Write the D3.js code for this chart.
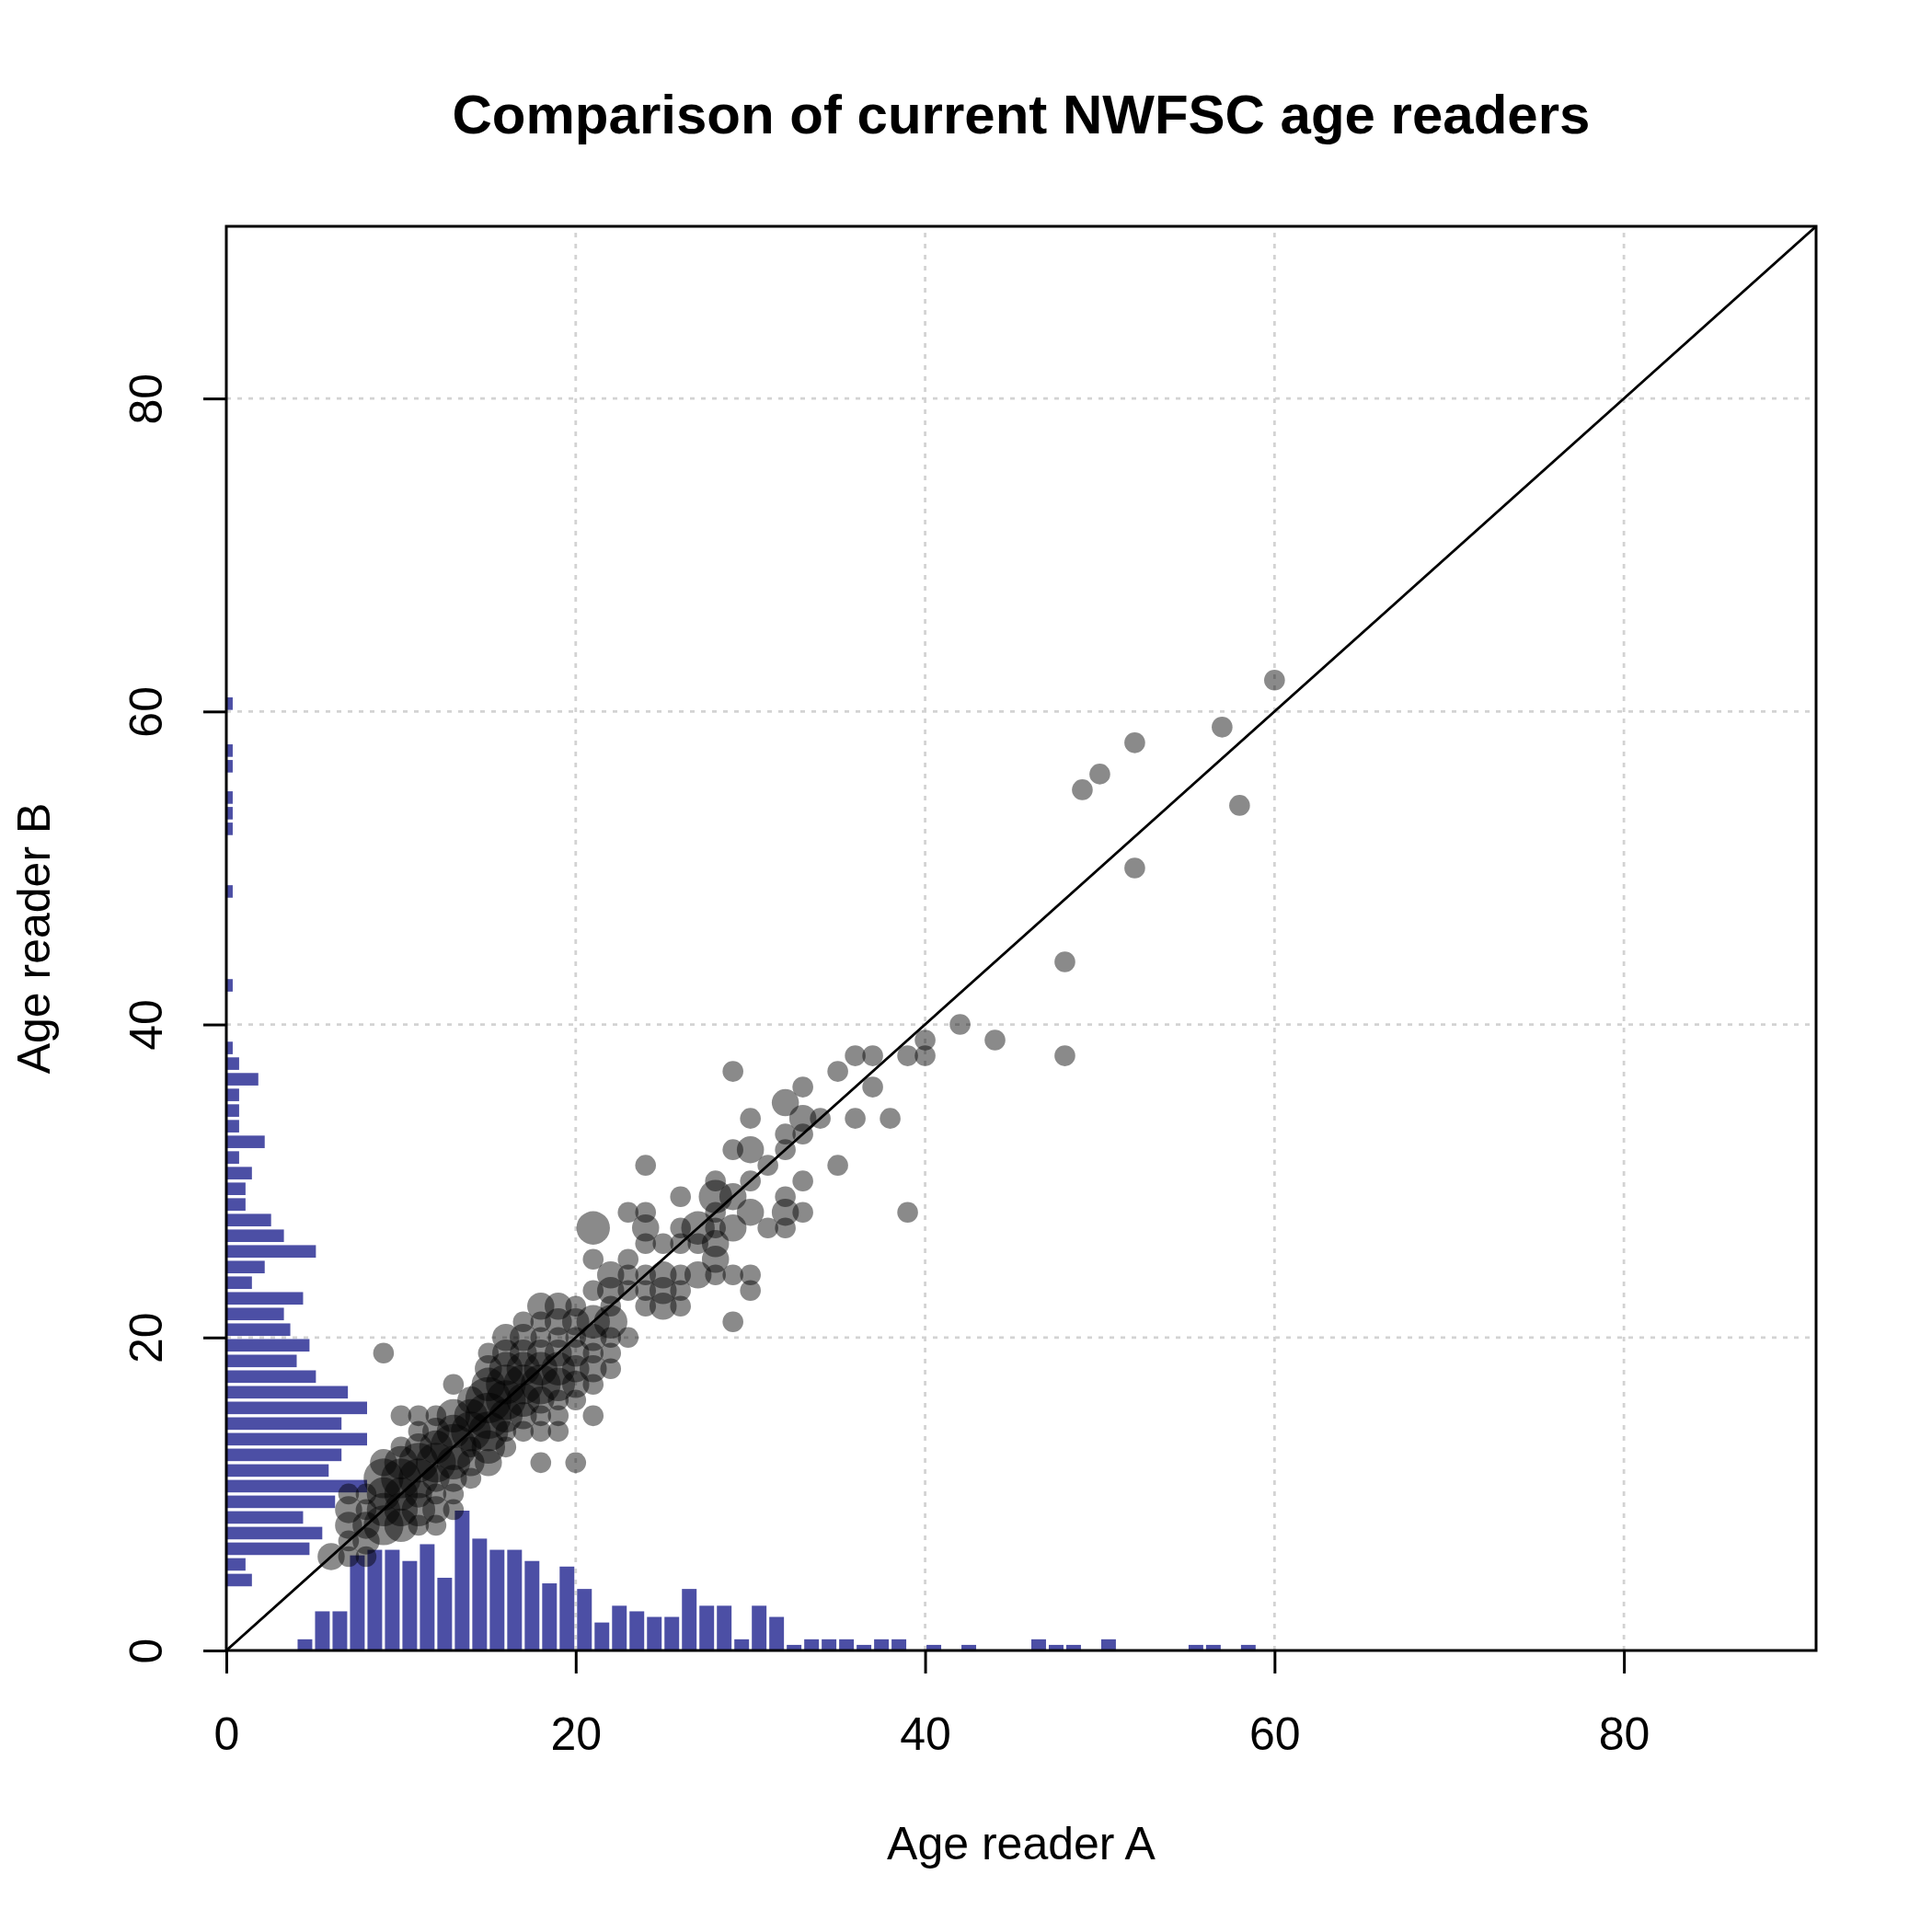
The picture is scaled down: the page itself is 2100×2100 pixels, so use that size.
<!DOCTYPE html>
<html><head><meta charset="utf-8">
<script src="https://cdn.jsdelivr.net/npm/d3@7"></script>
<style>html,body{margin:0;padding:0;background:#fff}svg{display:block}</style>
</head><body>
<script>
// ---------- data ----------
const chartTitle = "Comparison of current NWFSC age readers";
const xLabel = "Age reader A";
const yLabel = "Age reader B";
const axisMax = 91;
const tickValues = [0, 20, 40, 60, 80];
const gridValues = [20, 40, 60, 80];

// bubbles: age by reader A, age by reader B, number of fish
const ageA = [6,
  7,7,7,7,7,
  8,8,8,8,8,
  9,9,9,9,9,9,
  10,10,10,10,10,10,10,
  11,11,11,11,11,11,11,11,
  12,12,12,12,12,12,12,12,
  13,13,13,13,13,13,13,13,
  14,14,14,14,14,14,
  15,15,15,15,15,15,15,15,
  16,16,16,16,16,16,16,16,
  17,17,17,17,17,17,17,17,
  18,18,18,18,18,18,18,18,18,18,
  19,19,19,19,19,19,19,19,19,
  20,20,20,20,20,20,20,20,
  21,21,21,21,21,21,21,21,21,
  22,22,22,22,22,22,22,
  23,23,23,23,23,
  24,24,24,24,24,24,24,
  25,25,25,25,
  26,26,26,26,26,26,
  27,27,27,
  28,28,28,28,28,28,28,
  29,29,29,29,29,29,
  30,30,30,30,30,30,
  31,31,
  32,32,32,32,32,32,
  33,33,33,33,33,
  34,35,35,36,36,37,37,38,39,39,40,40,
  42,44,48,48,49,50,52,52,57,58,60];
const ageB = [6,
  6,7,8,9,10,
  6,7,8,9,10,
  8,9,10,11,12,19,
  8,9,10,11,12,13,15,
  8,9,10,11,12,13,14,15,
  8,9,10,11,12,13,14,15,
  9,10,11,12,13,14,15,17,
  11,12,13,14,15,16,
  12,13,14,15,16,17,18,19,
  13,14,15,16,17,18,19,20,
  14,15,16,17,18,19,20,21,
  12,14,15,16,17,18,19,20,21,22,
  14,15,16,17,18,19,20,21,22,
  12,16,17,18,19,20,21,22,
  15,17,18,19,20,21,23,25,27,
  18,19,20,21,22,23,24,
  20,23,24,25,28,
  22,23,24,26,27,28,31,
  22,23,24,26,
  22,23,24,26,27,29,
  24,26,27,
  24,25,26,27,28,29,30,
  21,24,27,29,32,37,
  23,24,28,30,32,34,
  27,31,
  27,28,29,32,33,35,
  28,30,33,34,36,
  34,31,37,34,38,36,38,34,28,38,38,39,
  40,39,38,44,55,56,50,58,59,54,62];
const nFish = [2,
  1,1,2,2,1,
  1,2,2,1,1,
  4,3,3,4,2,1,
  3,3,3,4,3,1,1,
  1,3,2,4,4,2,1,1,
  1,2,1,2,4,3,2,1,
  1,1,2,3,5,3,3,1,
  1,2,1,4,3,2,
  2,3,4,5,5,3,2,1,
  1,1,3,4,4,3,2,2,
  1,2,3,4,3,2,2,1,
  1,1,1,2,4,3,2,1,1,2,
  1,1,1,3,3,2,1,2,2,
  1,1,2,2,2,1,2,1,
  1,1,2,1,2,3,1,1,3,
  1,1,1,3,1,2,2,
  1,1,1,1,1,
  1,1,1,1,2,1,1,
  2,2,2,1,
  1,1,1,1,1,1,
  2,1,3,
  1,2,2,1,1,3,1,
  1,1,2,2,1,1,
  1,1,2,1,2,1,
  1,1,
  1,2,1,1,1,2,
  1,1,1,2,1,
  1,1,1,1,1,1,1,1,1,1,1,1,
  1,1,1,1,1,1,1,1,1,1,1];

// marginal histogram along the x axis (reader A): bin start, count
const histABins = [4,5,6,7,8,9,10,11,12,13,14,15,16,17,18,19,20,21,22,23,24,25,26,27,28,29,30,31,
  32,33,34,35,36,37,38,40,42,46,47,48,50,55,56,58];
const histACounts = [2,7,7,17,18,18,16,19,13,25,20,18,18,16,12,15,11,5,8,7,6,6,11,8,8,2,8,6,
  1,2,2,2,1,2,2,1,1,2,1,1,2,1,1,1];

// marginal histogram along the y axis (reader B): bin start, count
const histBBins = [4,5,6,7,8,9,10,11,12,13,14,15,16,17,18,19,20,21,22,23,24,25,26,27,28,29,30,31,
  32,33,34,35,36,37,38,42,48,52,53,54,56,57,60];
const histBCounts = [4,3,13,15,12,17,22,16,18,22,18,22,19,14,11,13,10,9,12,4,6,14,9,7,3,3,4,2,
  6,2,2,2,5,2,1,1,1,1,1,1,1,1,1];

// ---------- layout ----------
const W = 2100, H = 2100;
const m = {l: 246, r: 126, t: 246, b: 306};
const font = "'Liberation Sans', Arial, Helvetica, sans-serif";
const barColor = "#4c4fa5";

const x = d3.scaleLinear().domain([0, axisMax]).range([m.l, W - m.r]);
const y = d3.scaleLinear().domain([0, axisMax]).range([H - m.b, m.t]);
const r = d3.scaleLinear().domain([1, 3]).range([11.3, 18.2]);
const lenA = d3.scaleLinear().domain([0, d3.max(histACounts)]).range([0, 152]);
const lenB = d3.scaleLinear().domain([0, d3.max(histBCounts)]).range([0, 153]);

const svg = d3.select("body").append("svg")
  .attr("width", W).attr("height", H)
  .style("font-family", font);
svg.append("rect").attr("width", W).attr("height", H).attr("fill", "#fff");

svg.append("clipPath").attr("id", "plotclip").append("rect")
  .attr("x", m.l).attr("y", m.t).attr("width", W - m.l - m.r).attr("height", H - m.t - m.b);
const plot = svg.append("g").attr("clip-path", "url(#plotclip)");

// grid
const grid = plot.append("g").attr("stroke", "#d3d3d3").attr("stroke-width", 2.8)
  .attr("stroke-dasharray", "5,7");
grid.selectAll("line.v").data(gridValues).join("line").attr("class", "v")
  .attr("x1", d => x(d)).attr("x2", d => x(d)).attr("y1", y(0)).attr("y2", y(axisMax));
grid.selectAll("line.h").data(gridValues).join("line").attr("class", "h")
  .attr("y1", d => y(d)).attr("y2", d => y(d)).attr("x1", x(0)).attr("x2", x(axisMax));

// histograms
plot.append("g").selectAll("rect")
  .data(histABins.map((b, i) => ({b, n: histACounts[i]})))
  .join("rect")
  .attr("x", d => x(d.b + 0.08))
  .attr("width", d => x(d.b + 0.92) - x(d.b + 0.08))
  .attr("y", d => y(0) - lenA(d.n))
  .attr("height", d => lenA(d.n))
  .attr("fill", barColor);

plot.append("g").selectAll("rect")
  .data(histBBins.map((b, i) => ({b, n: histBCounts[i]})))
  .join("rect")
  .attr("x", x(0))
  .attr("width", d => lenB(d.n))
  .attr("y", d => y(d.b + 0.9))
  .attr("height", d => y(d.b + 0.1) - y(d.b + 0.9))
  .attr("fill", barColor);

// bubbles
plot.append("g").selectAll("circle")
  .data(ageA.map((a, i) => ({a, b: ageB[i], n: nFish[i]})))
  .join("circle")
  .attr("cx", d => x(d.a))
  .attr("cy", d => y(d.b))
  .attr("r", d => r(d.n))
  .attr("fill", "#000")
  .attr("fill-opacity", 0.46);

// 1:1 line
plot.append("line")
  .attr("x1", x(0)).attr("y1", y(0)).attr("x2", x(axisMax)).attr("y2", y(axisMax))
  .attr("stroke", "#000").attr("stroke-width", 2.8);

// box
svg.append("rect")
  .attr("x", m.l).attr("y", m.t).attr("width", W - m.l - m.r).attr("height", H - m.t - m.b)
  .attr("fill", "none").attr("stroke", "#000").attr("stroke-width", 3);

// axes
const xAxis = svg.append("g").attr("transform", `translate(0,${y(0)})`)
  .call(d3.axisBottom(x).tickValues(tickValues).tickSize(25).tickSizeOuter(0).tickFormat(d3.format("d")));
xAxis.select(".domain").remove();
xAxis.selectAll(".tick line").attr("stroke", "#000").attr("stroke-width", 3);
xAxis.selectAll(".tick text").attr("y", 90).attr("dy", "0.35em")
  .attr("font-size", 50).attr("font-family", font).attr("fill", "#000");

const yAxis = svg.append("g").attr("transform", `translate(${x(0)},0)`)
  .call(d3.axisLeft(y).tickValues(tickValues).tickSize(25).tickSizeOuter(0).tickFormat(d3.format("d")));
yAxis.select(".domain").remove();
yAxis.selectAll(".tick line").attr("stroke", "#000").attr("stroke-width", 3);
yAxis.selectAll(".tick text").attr("x", 0).attr("y", 0).attr("dy", "0.35em")
  .attr("text-anchor", "middle")
  .attr("transform", "translate(-88,0) rotate(-90)")
  .attr("font-size", 50).attr("font-family", font).attr("fill", "#000");

// titles
svg.append("text").attr("x", (m.l + W - m.r) / 2).attr("y", 145)
  .attr("text-anchor", "middle").attr("font-size", 60).attr("font-weight", "bold")
  .text(chartTitle);
svg.append("text").attr("x", (m.l + W - m.r) / 2).attr("y", 2003).attr("dy", "0.35em")
  .attr("text-anchor", "middle").attr("font-size", 50)
  .text(xLabel);
svg.append("text").attr("transform", `translate(36,${(m.t + H - m.b) / 2}) rotate(-90)`)
  .attr("dy", "0.35em").attr("text-anchor", "middle").attr("font-size", 50)
  .text(yLabel);
</script>
</body></html>
